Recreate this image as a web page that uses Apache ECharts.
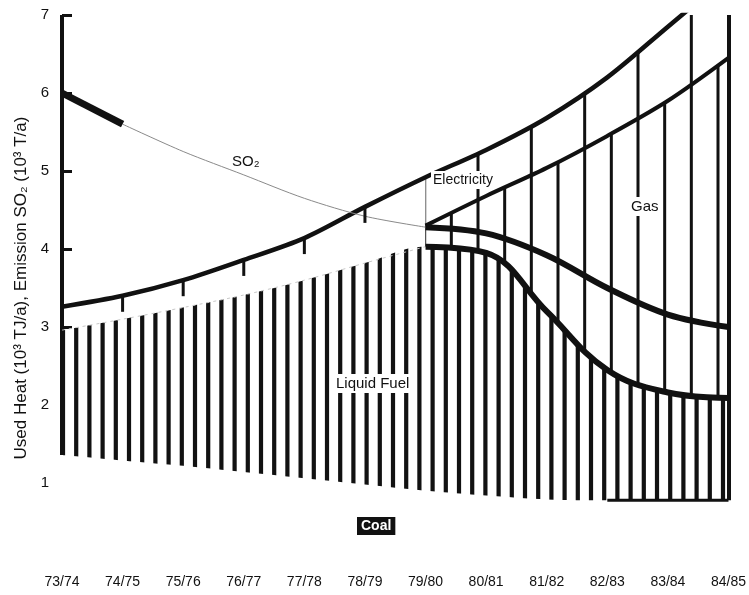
<!DOCTYPE html>
<html>
<head>
<meta charset="utf-8">
<script src="https://cdn.jsdelivr.net/npm/echarts@6/dist/echarts.min.js"></script>
<style>
html,body{margin:0;padding:0;background:#fff;}
#chart{width:749px;height:595px;}
</style>
</head>
<body>
<div id="chart"></div>
<script>
// ---- data (upper boundary of each layer, 10^3 TJ/a; SO2 in 10^3 T/a) ----
const categories = ['73/74','74/75','75/76','76/77','77/78','78/79','79/80','80/81','81/82','82/83','83/84','84/85'];
const yTicks = [1, 2, 3, 4, 5, 6, 7];
const coalTop = [1.36, 1.29, 1.22, 1.14, 1.06, 0.98, 0.90, 0.84, 0.79, 0.78, 0.78, 0.78];
const liquidFuelTop = [2.96, 3.10, 3.25, 3.41, 3.60, 3.82, 4.03, 3.95, 3.20, 2.45, 2.16, 2.09];
const gasTop = [null, null, null, null, null, null, 4.30, 4.68, 5.04, 5.45, 5.90, 6.45];
const electricityTop = [3.26, 3.40, 3.60, 3.86, 4.14, 4.54, 4.92, 5.27, 5.68, 6.20, 6.85, 7.50];
const so2 = [6.00, 5.60, 5.25, 4.95, 4.65, 4.42, 4.28, 4.20, 3.92, 3.50, 3.16, 3.00];

const INK = '#111';
const FONT = 'Liberation Sans';

function mask(arr, from, to) {
  return arr.map((v, i) => (i >= from && i <= to ? v : null));
}

function stripes(cellW, positions, lineW) {
  const c = document.createElement('canvas');
  c.width = cellW; c.height = 8;
  const g = c.getContext('2d');
  g.fillStyle = '#fff';
  g.fillRect(0, 0, cellW, 8);
  g.fillStyle = INK;
  positions.forEach(p => g.fillRect(p - lineW / 2, 0, lineW, 8));
  return { image: c, repeat: 'repeat' };
}

const densePattern = stripes(66, [10.2, 23.4, 36.6, 49.8, 63], 4.2);
const gasPattern = stripes(80, [24.67, 51.33, 78], 3);
const elecPattern = stripes(160, [51.33, 104.67, 158], 3);

const last = categories.length - 1;
const split = 6; // 79/80

const chart = echarts.init(document.getElementById('chart'), null, { renderer: 'canvas' });

const option = {
  animation: false,
  backgroundColor: '#fff',
  grid: { left: 62, right: 18, top: 15, bottom: 34 },
  xAxis: {
    type: 'category',
    data: categories,
    boundaryGap: false,
    axisLine: { show: false },
    axisTick: { show: false },
    axisLabel: { interval: 0, margin: 14, fontSize: 14, color: INK, fontFamily: FONT }
  },
  yAxis: {
    type: 'value',
    min: 0,
    max: 7,
    interval: 1,
    name: 'Used Heat (10³ TJ/a), Emission SO₂ (10³ T/a)',
    nameLocation: 'middle',
    nameRotate: 90,
    nameGap: 31,
    nameTextStyle: { fontSize: 17, color: INK, fontFamily: FONT },
    splitLine: { show: false },
    axisLine: { show: false },
    axisTick: { show: true, inside: true, length: 10, customValues: [2, 3, 4, 5, 6, 7], lineStyle: { color: INK, width: 3 } },
    axisLabel: { customValues: yTicks, fontSize: 15, color: INK, fontFamily: FONT, margin: 13 }
  },
  series: [
    {
      name: 'Electricity', type: 'line', data: mask(electricityTop, split, last),
      smooth: 0.3, symbol: 'none', lineStyle: { width: 0 },
      areaStyle: { color: elecPattern, opacity: 1 }, z: 1
    },
    {
      name: 'Gas', type: 'line', data: gasTop,
      smooth: 0.3, symbol: 'none', lineStyle: { width: 0 },
      areaStyle: { color: gasPattern, opacity: 1 }, z: 2
    },
    {
      name: 'Liquid Fuel', type: 'line', data: liquidFuelTop,
      smooth: 0.4, symbol: 'none', lineStyle: { width: 0 },
      areaStyle: { color: densePattern, opacity: 1 }, z: 3
    },
    {
      name: 'Coal', type: 'line', data: coalTop,
      smooth: 0.3, symbol: 'none', lineStyle: { width: 0 },
      areaStyle: { color: '#fff', opacity: 1 }, z: 4,
      markLine: {
        silent: true, symbol: 'none', label: { show: false },
        lineStyle: { color: INK, width: 4, type: 'solid' },
        data: [
          [{ coord: [categories[0], coalTop[0]] }, { coord: [categories[0], 7] }],
          [{ coord: [categories[last], coalTop[last]] }, { coord: [categories[last], 7] }]
        ]
      }
    },
    {
      name: 'Coal edge', type: 'line', data: mask(coalTop, 9, last),
      symbol: 'none', lineStyle: { color: INK, width: 3 }, z: 5
    },
    {
      name: 'Liquid Fuel edge (faint)', type: 'line', data: mask(liquidFuelTop, 0, split),
      smooth: 0.3, symbol: 'none', lineStyle: { color: '#c8c8c8', width: 1, type: [3, 4] }, z: 5
    },
    {
      name: 'Liquid Fuel edge', type: 'line', data: mask(liquidFuelTop, split, last),
      smooth: 0.4, symbol: 'none', lineStyle: { color: INK, width: 6 }, z: 6
    },
    {
      name: 'Gas edge', type: 'line', data: gasTop,
      smooth: 0.3, symbol: 'none', lineStyle: { color: INK, width: 4 }, z: 6
    },
    {
      name: 'Total', type: 'line', data: electricityTop,
      smooth: 0.3, lineStyle: { color: INK, width: 4.5 }, z: 7,
      symbol: 'rect', showSymbol: true,
      symbolSize: (v, p) => (p.dataIndex >= 1 && p.dataIndex < split ? [3, 16] : 0),
      symbolOffset: [0, 8],
      itemStyle: { color: INK }
    },
    {
      name: 'SO2 thin', type: 'line', data: mask(so2, 1, split),
      smooth: 0.3, symbol: 'none', lineStyle: { color: '#8a8a8a', width: 1 }, z: 7
    },
    {
      name: 'SO2 start', type: 'line', data: mask(so2, 0, 1),
      symbol: 'none', lineStyle: { color: INK, width: 7 }, z: 8
    },
    {
      name: 'SO2', type: 'line', data: mask(so2, split, last),
      smooth: 0.35, symbol: 'none', lineStyle: { color: INK, width: 6 }, z: 8
    }
  ],
  graphic: [
    { type: 'text', left: 232, top: 154, z: 100,
      style: { text: 'SO₂', fontSize: 15, fontFamily: FONT, fill: INK } },
    { type: 'text', left: 431, top: 171, z: 100,
      style: { text: 'Electricity', fontSize: 14, fontFamily: FONT, fill: INK, backgroundColor: '#fff', padding: [2, 2] } },
    { type: 'text', left: 627, top: 197, z: 100,
      style: { text: 'Gas', fontSize: 15, fontFamily: FONT, fill: INK, backgroundColor: '#fff', padding: [2, 4] } },
    { type: 'text', left: 333, top: 374, z: 100,
      style: { text: 'Liquid Fuel', fontSize: 15, fontFamily: FONT, fill: INK, backgroundColor: '#fff', padding: [2, 3] } },
    { type: 'text', left: 357, top: 517, z: 100,
      style: { text: 'Coal', fontSize: 14, fontWeight: 'bold', fontFamily: FONT, fill: '#fff', backgroundColor: INK, padding: [2, 4] } }
  ]
};

chart.setOption(option);
</script>
</body>
</html>
